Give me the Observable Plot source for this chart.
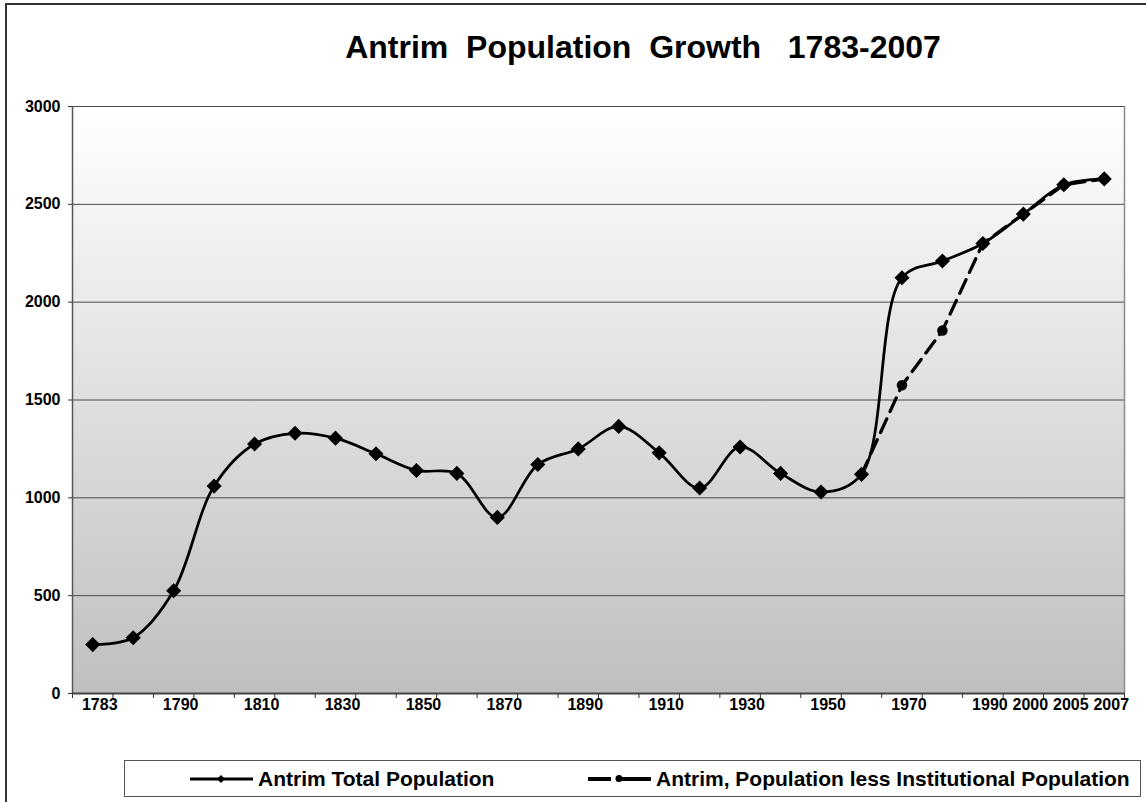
<!DOCTYPE html>
<html>
<head>
<meta charset="utf-8">
<script src="https://cdn.jsdelivr.net/npm/d3@7"></script>
<script src="https://cdn.jsdelivr.net/npm/@observablehq/plot@0.6"></script>
<style>
  html, body { margin: 0; padding: 0; background: #fff; overflow: hidden; }
  #chart { position: relative; width: 1146px; height: 802px; overflow: hidden;
           font-family: Arial, "Liberation Sans", sans-serif; color: #000; }
  #border { position: absolute; left: 5px; top: 3px; width: 1200px; height: 900px;
            border: 2px solid #333; box-sizing: border-box; }
  #title { position: absolute; left: 143px; top: 31px; width: 1000px; text-align: center;
           font-size: 32px; line-height: 32px; font-weight: bold; white-space: pre; }
  #plot { position: absolute; left: 0; top: 80px; }
  #legend { position: absolute; left: 124px; top: 760px; width: 1017px; height: 37px;
            border: 1px solid #555; box-sizing: border-box; background: #fff;
            font-size: 21px; font-weight: bold; }
  .item { position: absolute; top: 0; height: 35px; display: flex; align-items: center; white-space: pre; }
  .item svg { margin-right: 5px; }
</style>
</head>
<body>
<div id="chart">
  <div id="border"></div>
  <div id="title">Antrim  Population  Growth   1783-2007</div>
  <div id="plot"></div>
  <div id="legend"></div>
</div>
<script>
// Category labels along the x axis (blank where a census point has no label)
const categories = ["1783", "", "1790", "", "1810", "", "1830", "", "1850", "", "1870", "",
                    "1890", "", "1910", "", "1930", "", "1950", "", "1970", "",
                    "1990", "2000", "2005", "2007"];

// Antrim total population at each category
const totalPopulation = [250, 285, 525, 1060, 1275, 1330, 1305, 1225, 1140, 1125, 900, 1170,
                         1250, 1365, 1230, 1050, 1260, 1125, 1030, 1120, 2125, 2210,
                         2300, 2450, 2600, 2630];

// Population less the institutional population (only recorded from 1960 onward)
const lessInstitutional = [null, null, null, null, null, null, null, null, null, null, null, null,
                           null, null, null, null, null, null, null, 1120, 1575, 1855,
                           2300, 2450, 2600, 2630];

const yTicks = [0, 500, 1000, 1500, 2000, 2500, 3000];
const gridValues = [500, 1000, 1500, 2000, 2500, 3000];

const seriesNames = ["Antrim Total Population", "Antrim, Population less Institutional Population"];

const totalRows = totalPopulation.map((v, i) => ({i, v}));
const lessRows = lessInstitutional.map((v, i) => ({i, v})).filter(d => d.v != null);

const n = categories.length;
const boundaries = d3.range(n + 1).map(k => k - 0.5);
const labelled = d3.range(n).filter(i => categories[i] !== "");

const font = 'Arial, "Liberation Sans", sans-serif';

// Vertical white-to-grey wash behind the plotting area
function backgroundGradient() {
  return () => {
    const defs = d3.create("svg:defs");
    const g = defs.append("linearGradient")
      .attr("id", "plotBg").attr("x1", 0).attr("y1", 0).attr("x2", 0).attr("y2", 1);
    g.append("stop").attr("offset", "0%").attr("stop-color", "#ffffff");
    g.append("stop").attr("offset", "100%").attr("stop-color", "#bfbfbf");
    return defs.node();
  };
}

const chart = Plot.plot({
  width: 1146,
  height: 650,
  marginLeft: 72,
  marginRight: 22,
  marginTop: 26,
  marginBottom: 37,
  style: {fontFamily: font, fontSize: "16px", fontWeight: "bold", background: "transparent", color: "#000"},
  x: {type: "linear", domain: [-0.5, n - 0.5]},
  y: {domain: [0, 3000]},
  marks: [
    backgroundGradient(),
    Plot.frame({fill: "url(#plotBg)", stroke: "none"}),
    Plot.ruleY(gridValues, {stroke: "#4a4a4a", strokeWidth: 1}),
    Plot.ruleX([n - 0.5], {stroke: "#8a8a8a", strokeWidth: 1.5}),
    Plot.ruleX([-0.5], {stroke: "#555", strokeWidth: 1.5}),
    Plot.ruleY([0], {stroke: "#444", strokeWidth: 2}),
    Plot.axisY({ticks: yTicks, tickSize: 4, tickPadding: 8, label: null, stroke: "#333",
                tickFormat: d3.format("d"), fontSize: 16, fontWeight: "bold", fontFamily: font}),
    Plot.axisX({ticks: boundaries, tickSize: 5, tickFormat: () => "", label: null, stroke: "#333"}),
    Plot.axisX({ticks: labelled, tickSize: 0, tickPadding: 5, dx: 7,
                tickFormat: i => categories[i], label: null,
                fontSize: 16, fontWeight: "bold", fontFamily: font}),
    Plot.line(totalRows, {x: "i", y: "v", curve: "catmull-rom", stroke: "#000", strokeWidth: 2.75}),
    Plot.dot(totalRows, {x: "i", y: "v", symbol: "diamond2", r: 6.8, fill: "#000", stroke: "none"}),
    Plot.line(lessRows, {x: "i", y: "v", curve: "linear", stroke: "#000", strokeWidth: 3.25,
                         strokeDasharray: "15,8"}),
    Plot.dot(lessRows, {x: "i", y: "v", symbol: "circle", r: 5.25, fill: "#000", stroke: "none"})
  ]
});
document.getElementById("plot").appendChild(chart);

// Legend with line-and-marker swatches
const legend = d3.select("#legend");
const items = [
  {name: seriesNames[0], left: 65, dashed: false},
  {name: seriesNames[1], left: 463, dashed: true}
];
for (const it of items) {
  const div = legend.append("div").attr("class", "item").style("left", it.left + "px");
  const sw = div.append("svg").attr("width", 63).attr("height", 14);
  if (it.dashed) {
    sw.append("line").attr("x1", 0).attr("x2", 23).attr("y1", 7).attr("y2", 7)
      .attr("stroke", "#000").attr("stroke-width", 4);
    sw.append("line").attr("x1", 29).attr("x2", 63).attr("y1", 7).attr("y2", 7)
      .attr("stroke", "#000").attr("stroke-width", 4);
    sw.append("circle").attr("cx", 31).attr("cy", 6.5).attr("r", 3.5).attr("fill", "#000");
  } else {
    sw.append("line").attr("x1", 0).attr("x2", 63).attr("y1", 7).attr("y2", 7)
      .attr("stroke", "#000").attr("stroke-width", 3);
    sw.append("path").attr("d", "M31,3L35,7L31,11L27,7Z").attr("fill", "#000");
  }
  div.append("span").text(it.name);
}
</script>
</body>
</html>
